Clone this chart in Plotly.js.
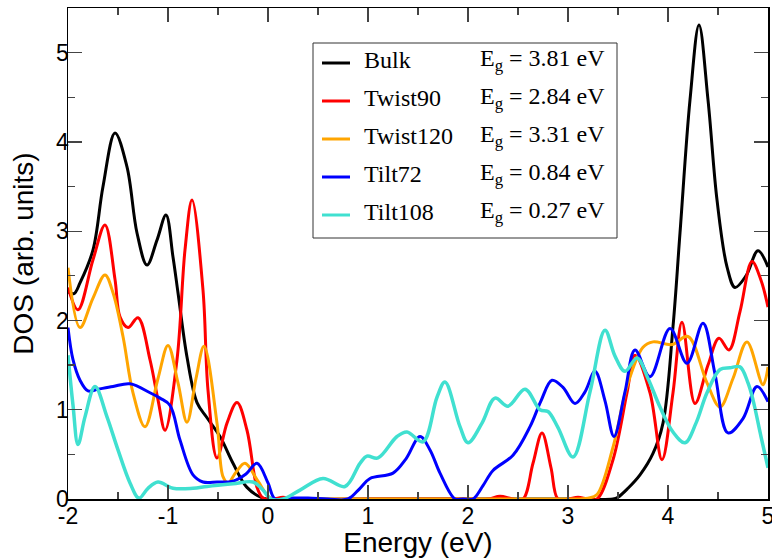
<!DOCTYPE html>
<html>
<head>
<meta charset="utf-8">
<script src="https://cdn.plot.ly/plotly-3.0.1.min.js"></script>
<style>html,body{margin:0;padding:0;background:#fff;}</style>
</head>
<body>
<div id="chart" style="width:772px;height:558px;"></div>
<script>
// ---------- data ----------
const seriesNames = ["Bulk", "Twist90", "Twist120", "Tilt72", "Tilt108"];
const bandGaps = ["3.81", "2.84", "3.31", "0.84", "0.27"];

const bulkE = [-2, -1.94, -1.88, -1.75, -1.65, -1.53, -1.41, -1.31, -1.21, -1.11, -1.02, -0.95, -0.90, -0.81, -0.71, -0.61, -0.48, -0.35, -0.21, -0.05, 0.05, 1.0, 2.0, 3.0, 3.45, 3.5, 3.6, 3.72, 3.85, 3.95, 4.05, 4.12, 4.22, 4.31, 4.40, 4.49, 4.59, 4.67, 4.78, 4.90, 5.0];
const bulkDOS = [2.32, 2.30, 2.42, 2.79, 3.50, 4.10, 3.72, 2.98, 2.62, 2.90, 3.18, 2.71, 2.31, 1.59, 1.08, 0.91, 0.70, 0.40, 0.13, 0.01, 0, 0, 0, 0, 0, 0.02, 0.12, 0.27, 0.51, 0.85, 1.93, 2.98, 4.47, 5.31, 4.47, 3.35, 2.6, 2.37, 2.5, 2.78, 2.6];

const twist90E = [-2, -1.90, -1.75, -1.63, -1.53, -1.48, -1.40, -1.30, -1.18, -1.10, -1.03, -0.91, -0.83, -0.76, -0.65, -0.60, -0.51, -0.41, -0.31, -0.21, -0.11, -0.05, 0.05, 0.15, 0.25, 1.0, 2.0, 2.2, 2.32, 2.45, 2.55, 2.65, 2.74, 2.83, 2.90, 3.0, 3.1, 3.2, 3.29, 3.45, 3.59, 3.67, 3.82, 3.94, 4.05, 4.14, 4.27, 4.40, 4.51, 4.61, 4.72, 4.84, 4.93, 5.0];
const twist90DOS = [2.37, 2.12, 2.68, 3.07, 2.46, 2.04, 1.92, 2.03, 1.56, 1.11, 0.77, 1.56, 2.79, 3.35, 2.34, 1.22, 0.46, 0.85, 1.08, 0.77, 0.13, 0.01, 0, 0.02, 0, 0, 0, 0, 0.03, 0, 0, 0.4, 0.74, 0.35, 0, 0, 0.02, 0, 0, 0.44, 1.19, 1.61, 1.19, 0.44, 1.19, 1.98, 1.07, 1.5, 1.80, 1.67, 2.1, 2.66, 2.45, 2.15];

const twist120E = [-2, -1.88, -1.75, -1.63, -1.55, -1.45, -1.35, -1.23, -1.10, -1.00, -0.90, -0.81, -0.72, -0.64, -0.51, -0.45, -0.40, -0.32, -0.23, -0.10, 0.04, 0.5, 1.5, 2.5, 3.0, 3.2, 3.29, 3.45, 3.59, 3.75, 3.85, 4.04, 4.20, 4.39, 4.52, 4.65, 4.79, 4.95, 5.0];
const twist120DOS = [2.59, 1.92, 2.25, 2.51, 2.31, 1.82, 1.19, 0.81, 1.35, 1.72, 1.3, 0.86, 1.35, 1.71, 0.85, 0.25, 0.18, 0.3, 0.40, 0.2, 0, 0, 0, 0, 0, 0.01, 0.05, 0.58, 1.26, 1.70, 1.76, 1.73, 1.82, 1.30, 1.03, 1.35, 1.76, 1.28, 1.48];

const tilt72E = [-2, -1.95, -1.88, -1.80, -1.70, -1.55, -1.38, -1.18, -1.08, -0.98, -0.88, -0.75, -0.65, -0.51, -0.35, -0.22, -0.11, 0, 0.07, 0.2, 0.4, 0.6, 0.8, 0.92, 1.02, 1.25, 1.38, 1.52, 1.62, 1.72, 1.87, 1.95, 2.05, 2.15, 2.25, 2.45, 2.62, 2.73, 2.84, 2.95, 3.07, 3.17, 3.27, 3.37, 3.46, 3.57, 3.67, 3.82, 4.02, 4.19, 4.35, 4.47, 4.60, 4.75, 4.89, 5.0];
const tilt72DOS = [1.92, 1.56, 1.33, 1.21, 1.23, 1.26, 1.29, 1.19, 1.13, 1.05, 0.66, 0.27, 0.19, 0.19, 0.20, 0.28, 0.40, 0.18, 0, 0.01, 0.01, 0, 0, 0.12, 0.23, 0.29, 0.45, 0.70, 0.55, 0.29, 0, 0, 0, 0.15, 0.32, 0.49, 0.81, 1.1, 1.33, 1.25, 1.07, 1.2, 1.43, 1.1, 0.70, 1.2, 1.67, 1.37, 1.91, 1.52, 1.97, 1.4, 0.74, 0.9, 1.26, 1.09];

const tilt108E = [-2, -1.95, -1.90, -1.83, -1.73, -1.61, -1.50, -1.38, -1.29, -1.20, -1.10, -0.95, -0.75, -0.61, -0.35, -0.15, -0.05, 0.03, 0.15, 0.32, 0.55, 0.77, 0.92, 0.99, 1.10, 1.29, 1.39, 1.55, 1.69, 1.77, 1.92, 2.00, 2.14, 2.27, 2.40, 2.57, 2.72, 2.80, 2.90, 3.05, 3.22, 3.37, 3.47, 3.57, 3.69, 3.80, 3.92, 4.05, 4.17, 4.28, 4.39, 4.52, 4.62, 4.72, 4.80, 4.85, 4.93, 5.0];
const tilt108DOS = [1.61, 1.05, 0.61, 0.92, 1.26, 0.92, 0.55, 0.18, 0.01, 0.12, 0.19, 0.12, 0.12, 0.14, 0.17, 0.19, 0.1, 0, 0, 0.1, 0.23, 0.14, 0.40, 0.48, 0.46, 0.70, 0.75, 0.64, 1.14, 1.31, 0.81, 0.63, 0.85, 1.13, 1.04, 1.23, 1.0, 0.98, 0.8, 0.47, 1.2, 1.89, 1.60, 1.43, 1.58, 1.35, 1.03, 0.75, 0.63, 0.85, 1.19, 1.45, 1.47, 1.48, 1.3, 1.11, 0.7, 0.35];

const xTickVals = [-2, -1, 0, 1, 2, 3, 4, 5];
const xTickText = ["-2", "-1", "0", "1", "2", "3", "4", "5"];
const yTickVals = [0, 1, 2, 3, 4, 5];
const yTickText = ["0", "1", "2", "3", "4", "5"];

// ---------- styling ----------
const energies = [bulkE, twist90E, twist120E, tilt72E, tilt108E];
const dosValues = [bulkDOS, twist90DOS, twist120DOS, tilt72DOS, tilt108DOS];
const colors = ["#000000", "#ff0000", "#ffa500", "#0000ff", "#40e0d0"];
const widths = [3, 3, 3, 3, 3.5];

const traces = seriesNames.map((n, i) => ({
  type: "scatter", mode: "lines", name: n,
  x: energies[i], y: dosValues[i],
  line: {color: colors[i], width: widths[i], shape: "spline", smoothing: 1},
  hoverinfo: "skip"
}));

const W = 772, H = 558, L = 68, R = 4, T = 8, B = 59;
const pw = W - L - R, ph = H - T - B;
const px = v => (v - L) / pw;
const py = v => (H - B - v) / ph;

const serif = "Liberation Serif, Times New Roman, serif";
const sans = "Liberation Sans, Arial, Helvetica, sans-serif";

const shapes = [{
  type: "rect", xref: "paper", yref: "paper",
  x0: px(313), x1: px(617), y0: py(238), y1: py(43),
  line: {color: "#333", width: 1}, fillcolor: "rgba(255,255,255,1)", layer: "above"
}];
const annotations = [];
seriesNames.forEach((n, i) => {
  const yy = 63 + i * 38;
  shapes.push({type: "line", xref: "paper", yref: "paper",
    x0: px(322), x1: px(350), y0: py(yy), y1: py(yy),
    line: {color: colors[i], width: 3}, layer: "above"});
  annotations.push({xref: "paper", yref: "paper", x: px(362), y: py(yy - 3),
    xanchor: "left", yanchor: "middle", showarrow: false, text: n,
    font: {family: serif, size: 24, color: "#000"}});
  annotations.push({xref: "paper", yref: "paper", x: px(607), y: py(yy - 3),
    xanchor: "right", yanchor: "middle", showarrow: false,
    text: "E<sub>g</sub> = " + bandGaps[i] + " eV",
    font: {family: serif, size: 24, color: "#000"}});
});

const axisCommon = {
  showgrid: false, zeroline: false, showline: true, linecolor: "#000", linewidth: 1.5,
  mirror: "ticks", ticks: "inside", ticklen: 14, tickwidth: 1.2, tickcolor: "#444",
  tickfont: {family: sans, size: 23, color: "#000"}, tickmode: "array",
  ticklabeloverflow: "allow",
  minor: {ticks: "inside", ticklen: 7, tickwidth: 1.2, tickcolor: "#444", tickmode: "linear", tick0: 0, dtick: 0.5, showgrid: false}
};

const layout = {
  width: W, height: H, margin: {l: L, r: R, t: T, b: B},
  paper_bgcolor: "#fff", plot_bgcolor: "#fff", showlegend: false,
  xaxis: Object.assign({}, axisCommon, {range: [-2, 5], tickvals: xTickVals, ticktext: xTickText,
    ticklabelstandoff: -4,
    title: {text: "Energy (eV)", font: {family: sans, size: 28, color: "#000"}, standoff: 6}}),
  yaxis: Object.assign({}, axisCommon, {range: [0, 5.5], tickvals: yTickVals, ticktext: yTickText,
    ticklabelstandoff: -7,
    title: {text: "DOS (arb. units)", font: {family: sans, size: 28, color: "#000"}, standoff: 14}}),
  shapes: shapes, annotations: annotations
};

Plotly.newPlot("chart", traces, layout, {displayModeBar: false, staticPlot: true});
</script>
</body>
</html>
